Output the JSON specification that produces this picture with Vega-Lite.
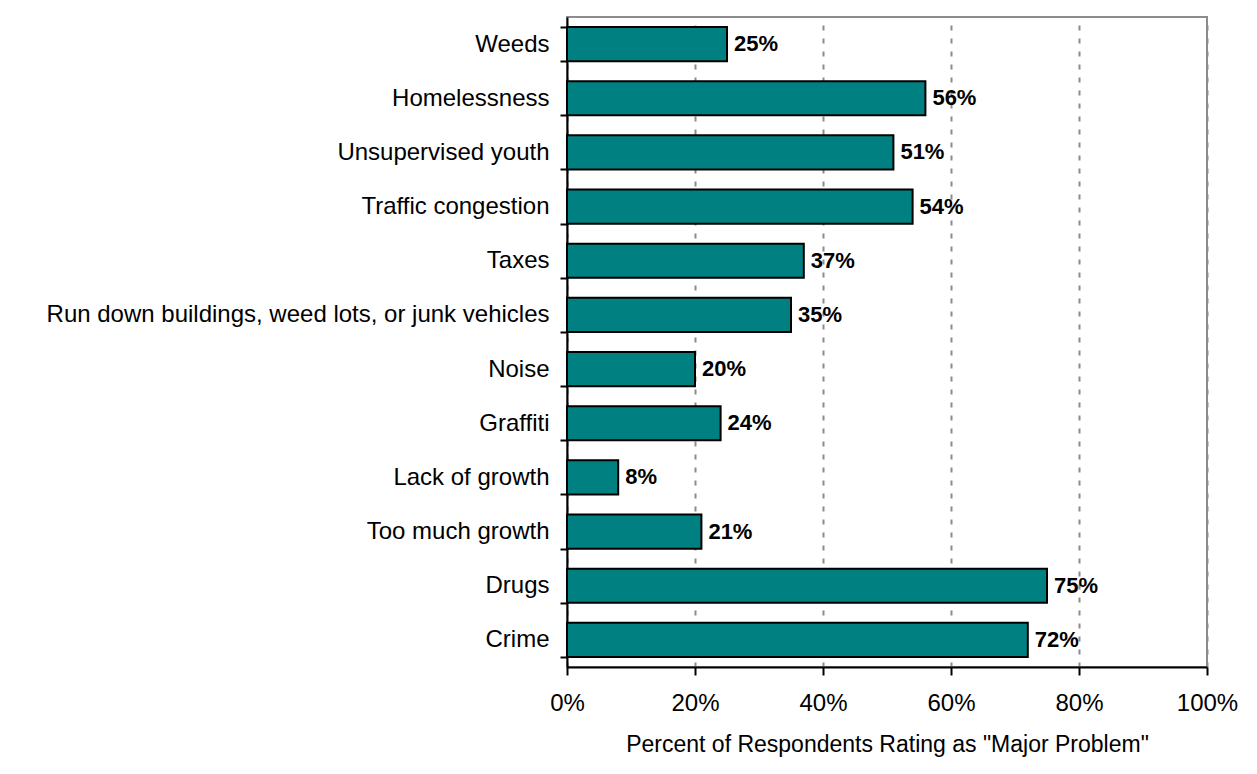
{
  "$schema": "https://vega.github.io/schema/vega-lite/v6.json",
  "width": 640,
  "height": 650,
  "autosize": {"type": "none"},
  "padding": {"left": 567, "top": 17, "right": 50, "bottom": 107},
  "background": "white",
  "config": {
    "font": "Liberation Sans",
    "view": {"stroke": "#8c8c8c", "strokeWidth": 2}
  },
  "data": {
    "values": [
      {"issue": "Weeds", "pct": 0.25},
      {"issue": "Homelessness", "pct": 0.56},
      {"issue": "Unsupervised youth", "pct": 0.51},
      {"issue": "Traffic congestion", "pct": 0.54},
      {"issue": "Taxes", "pct": 0.37},
      {"issue": "Run down buildings, weed lots, or junk vehicles", "pct": 0.35},
      {"issue": "Noise", "pct": 0.20},
      {"issue": "Graffiti", "pct": 0.24},
      {"issue": "Lack of growth", "pct": 0.08},
      {"issue": "Too much growth", "pct": 0.21},
      {"issue": "Drugs", "pct": 0.75},
      {"issue": "Crime", "pct": 0.72}
    ]
  },
  "encoding": {
    "y": {
      "field": "issue",
      "type": "nominal",
      "sort": null,
      "scale": {"paddingInner": 0.37, "paddingOuter": 0.185},
      "axis": {
        "title": null,
        "tickBand": "extent",
        "domainColor": "black",
        "domainWidth": 2,
        "tickColor": "black",
        "tickWidth": 2,
        "tickSize": 7,
        "labelFontSize": 24,
        "labelColor": "black",
        "labelPadding": 11,
        "labelLimit": 700
      }
    },
    "x": {
      "field": "pct",
      "type": "quantitative",
      "scale": {"domain": [0, 1]},
      "axis": {
        "title": "Percent of Respondents Rating as \"Major Problem\"",
        "titleFontSize": 23,
        "titleFontWeight": "normal",
        "titleColor": "black",
        "titlePadding": 18,
        "values": [0, 0.2, 0.4, 0.6, 0.8, 1],
        "format": ".0%",
        "labelFontSize": 24,
        "labelColor": "black",
        "labelPadding": 16,
        "labelFlush": false,
        "domainColor": "black",
        "domainWidth": 2,
        "tickColor": "black",
        "tickWidth": 2,
        "tickSize": 8,
        "grid": true,
        "gridColor": "#8c8c8c",
        "gridWidth": 2,
        "gridDash": [5, 8]
      }
    }
  },
  "layer": [
    {
      "mark": {"type": "bar", "color": "#008080", "stroke": "black", "strokeWidth": 2}
    },
    {
      "mark": {"type": "text", "align": "left", "baseline": "middle", "dx": 7, "fontSize": 22, "fontWeight": "bold", "color": "black"},
      "encoding": {"text": {"field": "pct", "type": "quantitative", "format": ".0%"}, "x": {"field": "pct", "type": "quantitative"}}
    }
  ]
}
